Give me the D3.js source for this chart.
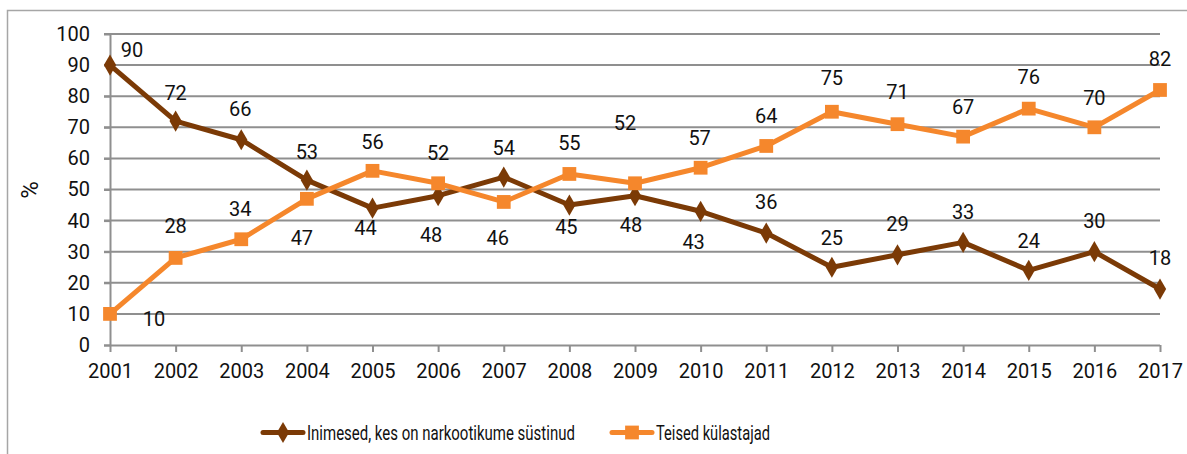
<!DOCTYPE html>
<html>
<head>
<meta charset="utf-8">
<script src="https://cdn.jsdelivr.net/npm/d3@7"></script>
<style>
    body { margin: 0; background: #fff; }
    text { font-family: Roboto, "Noto Sans", sans-serif; fill: #111; }
</style>
</head>
<body>
<div id="chart"></div>
<script>
var years = ['2001', '2002', '2003', '2004', '2005', '2006', '2007', '2008', '2009',
    '2010', '2011', '2012', '2013', '2014', '2015', '2016', '2017'];
var injected = [90, 72, 66, 53, 44, 48, 54, 45, 48, 43, 36, 25, 29, 33, 24, 30, 18];
var others = [10, 28, 34, 47, 56, 52, 46, 55, 52, 57, 64, 75, 71, 67, 76, 70, 82];
var yTicks = [0, 10, 20, 30, 40, 50, 60, 70, 80, 90, 100];
var seriesNames = ['Inimesed, kes on narkootikume süstinud', 'Teised külastajad'];

// label offsets (px) from the marker, as placed in the original
var injectedLabelDx = [22, 0, -1, 0, -7, -7, 0, -3, -4, -7, 0, 0, 0, 0, 0, 0, 0];
var injectedLabelDy = [-15, -28, -31, -28, 20, 39, -29, 22, 29, 31, -31, -29, -31, -31, -30, -31, -31];
var othersLabelDx = [44, 0, -1, -5, 0, 0, -6, 0, -10, -1, 0, 0, 0, 0, 0, 0, 0];
var othersLabelDy = [5, -32, -30, 39, -29, -30, 36, -31, -60, -30, -30, -34, -32, -30, -32, -30, -31];

var colors = ['#7b3a06', '#f5872c'];
var gridColor = '#8f8f8f';

var svg = d3.select('#chart').append('svg')
    .attr('width', 1187)
    .attr('height', 454);

// outer frame (cut off on the right and at the bottom)
svg.append('path')
    .attr('d', 'M7.5,460 V10.5 H1195')
    .attr('fill', 'none')
    .attr('stroke', '#a6a6a6')
    .attr('stroke-width', 1.5);

var x = d3.scalePoint().domain(years).range([110, 1160]);
var y = d3.scaleLinear().domain([0, 100]).range([345, 34]);

// gridlines
svg.append('g').selectAll('line')
    .data(yTicks.slice(1))
    .enter().append('line')
    .attr('x1', 104)
    .attr('x2', 1160)
    .attr('y1', function (d) { return y(d); })
    .attr('y2', function (d) { return y(d); })
    .attr('stroke', gridColor)
    .attr('stroke-width', 2);

var yAxis = svg.append('g')
    .attr('transform', 'translate(110,0)')
    .call(d3.axisLeft(y).tickValues(yTicks).tickSize(6).tickPadding(14));
var xAxis = svg.append('g')
    .attr('transform', 'translate(0,345)')
    .call(d3.axisBottom(x).tickSize(7).tickPadding(12));

[yAxis, xAxis].forEach(function (ax) {
    ax.select('.domain').attr('stroke', gridColor).attr('stroke-width', 2);
    ax.selectAll('.tick line').attr('stroke', gridColor).attr('stroke-width', 2);
    ax.selectAll('.tick text')
        .attr('fill', '#111')
        .style('font-family', 'Roboto, sans-serif')
        .style('font-size', '20px');
});
xAxis.select('.domain').attr('d', 'M104,0.5H1160');
yAxis.select('.domain').attr('d', 'M0.5,345V34');

svg.append('text')
    .attr('transform', 'translate(38,190) rotate(-90)')
    .attr('text-anchor', 'middle')
    .style('font-size', '24px')
    .text('%');

var line = d3.line()
    .x(function (d, i) { return x(years[i]); })
    .y(function (d) { return y(d); });

var series = [
    { values: injected, dx: injectedLabelDx, dy: injectedLabelDy, marker: d3.symbolDiamond, size: 130 },
    { values: others, dx: othersLabelDx, dy: othersLabelDy, marker: d3.symbolSquare, size: 190 }
];

series.forEach(function (s, k) {
    svg.append('path')
        .datum(s.values)
        .attr('d', line)
        .attr('fill', 'none')
        .attr('stroke', colors[k])
        .attr('stroke-width', 5)
        .attr('stroke-linejoin', 'round');
});

series.forEach(function (s, k) {
    svg.append('g').selectAll('path')
        .data(s.values)
        .enter().append('path')
        .attr('d', d3.symbol().type(s.marker).size(s.size))
        .attr('transform', function (d, i) {
            return 'translate(' + x(years[i]) + ',' + y(d) + ')';
        })
        .attr('fill', colors[k]);
});

series.forEach(function (s, k) {
    svg.append('g').selectAll('text')
        .data(s.values)
        .enter().append('text')
        .attr('x', function (d, i) { return x(years[i]) + s.dx[i]; })
        .attr('y', function (d, i) { return y(d) + s.dy[i]; })
        .attr('text-anchor', 'middle')
        .attr('dy', '0.36em')
        .style('font-size', '20px')
        .text(function (d) { return d; });
});

// legend (original font is narrow, so squeeze Roboto horizontally)
var legendItems = [
    { x1: 263, x2: 303, tx: 307, tw: 268 },
    { x1: 612, x2: 652, tx: 656, tw: 114 }
];
legendItems.forEach(function (item, k) {
    var g = svg.append('g');
    var mid = (item.x1 + item.x2) / 2;
    g.append('line')
        .attr('x1', item.x1).attr('x2', item.x2)
        .attr('y1', 432.5).attr('y2', 432.5)
        .attr('stroke', colors[k])
        .attr('stroke-width', 5)
        .attr('stroke-linecap', 'round');
    g.append('path')
        .attr('d', d3.symbol().type(series[k].marker).size(series[k].size))
        .attr('transform', 'translate(' + mid + ',432.5)')
        .attr('fill', colors[k]);
    var t = g.append('text')
        .attr('x', 0)
        .attr('y', 0)
        .style('font-size', '21px')
        .text(seriesNames[k]);
    var natural = t.node().getComputedTextLength();
    t.attr('transform', 'translate(' + item.tx + ',440) scale(' + (item.tw / natural) + ',1)');
});
</script>
</body>
</html>
